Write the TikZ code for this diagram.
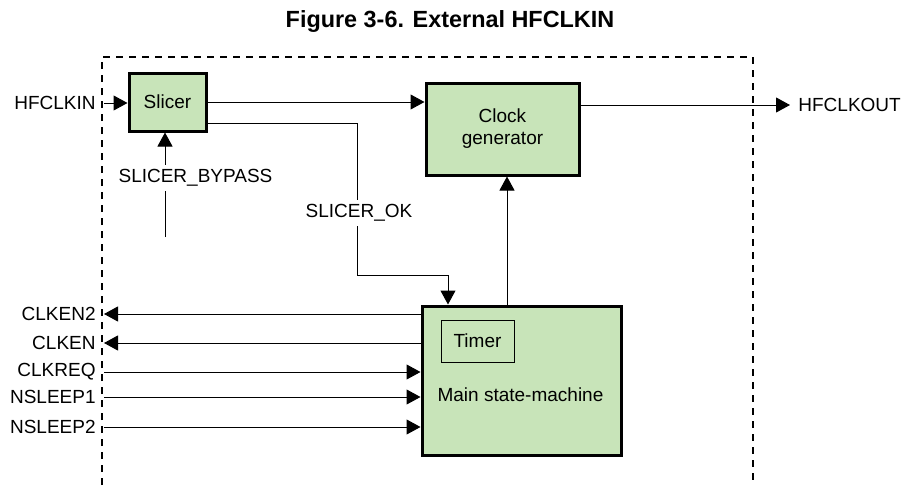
\documentclass[tikz,border=0pt]{standalone}
\usepackage{fontspec}
\setmainfont{Liberation Sans}
\usetikzlibrary{arrows.meta,positioning}
\definecolor{blockgreen}{RGB}{200,228,185}
\newcommand{\sigfont}{\fontsize{9.5}{11}\selectfont}

\tikzset{
    block/.style={draw, line width=1.5pt, fill=blockgreen, inner sep=0pt, align=center, font=\sigfont},
    sig/.style={line width=0.5pt, -{Triangle[length=7pt,width=7.5pt]}},
    siglabel/.style={font=\sigfont, inner sep=1pt},
    frame/.style={line width=0.8pt, dash pattern=on 3.5pt off 3pt}
}

\begin{document}
\begin{tikzpicture}[x=0.5pt, y=-0.5pt]
\useasboundingbox (0,0) rectangle (901,489);

% Title
\node[font=\fontsize{11.7}{14}\selectfont\bfseries] (title) at (450,21) {Figure 3-6. External HFCLKIN};

% Dashed frame
\draw[frame] (102,485) -- (102,57) -- (753,57) -- (753,485);

% Blocks
\node[block, minimum width=38.5pt, minimum height=29pt] (slicer) at (167.5,102) {Slicer};
\node[block, minimum width=76.5pt, minimum height=46pt] (clkgen) at (502.5,129) {Clock\\generator};
\node[block, minimum width=99.5pt, minimum height=74.5pt] (fsm) at (521.5,380.5) {};
\node[draw, line width=0.5pt, minimum width=36.5pt, minimum height=21pt, inner sep=0pt, font=\sigfont] (timer) at (477.5,341) {Timer};
\node[siglabel] (fsmtext) at (520.5,395) {Main state-machine};

% HFCLKIN in, HFCLKOUT out
\node[siglabel, anchor=east] (hfclkin) at (98,103) {HFCLKIN};
\coordinate (hfin) at (104,103);
\draw[sig] (hfin) -- (hfin -| slicer.west);
\draw[sig] (slicer.east) -- (slicer.east -| clkgen.west);
\coordinate (hfout) at (790,105);
\draw[sig] (hfout -| clkgen.east) -- (hfout);
\node[siglabel, anchor=west] (hfclkout) at (796,105) {HFCLKOUT};

% SLICER_BYPASS
\coordinate (bypass) at (165,237);
\draw[sig] (bypass) -- (bypass |- slicer.south);
\node[siglabel, fill=white, inner sep=2pt] (bypasslabel) at (195.5,178) {SLICER\_BYPASS};

% SLICER_OK
\coordinate (okstart) at (206,123);
\coordinate (okbend) at (357,275);
\coordinate (okdrop) at (448,275);
\draw[sig] (okstart) -| (okbend) -- (okdrop) -- (okdrop |- fsm.north);
\node[siglabel, fill=white, inner sep=2pt] (oklabel) at (359,213) {SLICER\_OK};

% state-machine to clock generator
\coordinate (fsmup) at (507,306);
\draw[sig] (fsmup) -- (fsmup |- clkgen.south);

% Outputs
\foreach \name/\y in {CLKEN2/314, CLKEN/343} {
    \node[siglabel, anchor=east] (\name) at (98,\y) {\name};
    \coordinate (\name end) at (104,\y);
    \draw[sig] (\name end -| fsm.west) -- (\name end);
}

% Inputs
\foreach \name/\y in {CLKREQ/372, NSLEEP1/397, NSLEEP2/427} {
    \node[siglabel, anchor=east] (\name) at (98,\y) {\name};
    \coordinate (\name start) at (104,\y);
    \draw[sig] (\name start) -- (\name start -| fsm.west);
}

\end{tikzpicture}
\end{document}
